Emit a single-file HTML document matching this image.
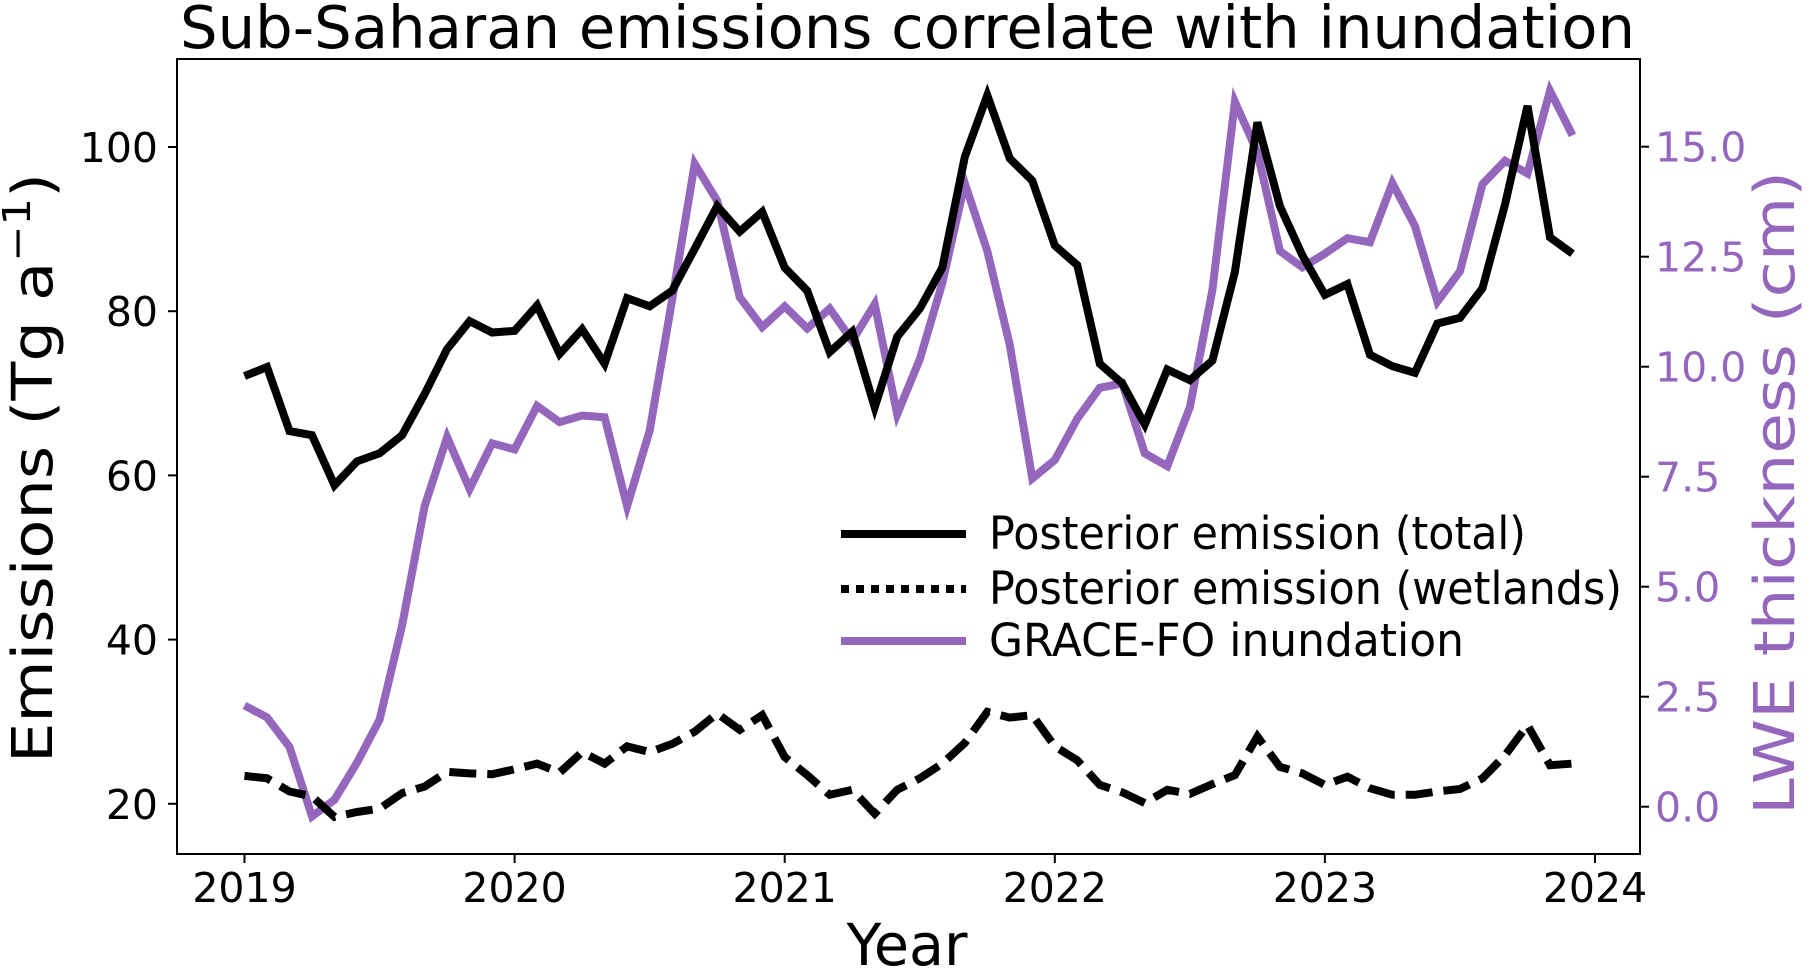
<!DOCTYPE html>
<html><head><meta charset="utf-8"><style>
html,body{margin:0;padding:0;background:#fff;}
svg{display:block;}
text{font-family:"DejaVu Sans","Liberation Sans",sans-serif;}
</style></head><body>
<svg id="chart" width="1812" height="969" viewBox="0 0 1812 969" xmlns="http://www.w3.org/2000/svg">
<text x="180" y="48" font-size="59" textLength="1455" lengthAdjust="spacingAndGlyphs">Sub-Saharan emissions correlate with inundation</text>
<g id="marks"></g>
<rect x="177" y="59" width="1463" height="795" fill="none" stroke="#000" stroke-width="2"/>
<g id="axes"></g>
<text x="907" y="965" font-size="58" text-anchor="middle" textLength="121" lengthAdjust="spacingAndGlyphs">Year</text>
<text transform="translate(52,468) rotate(-90)" font-size="56" text-anchor="middle" textLength="590" lengthAdjust="spacingAndGlyphs">Emissions (Tg a<tspan font-size="38" dy="-22">−1</tspan><tspan dy="22">)</tspan></text>
<text transform="translate(1794,493) rotate(-90)" font-size="56" fill="#9467bd" text-anchor="middle" textLength="644" lengthAdjust="spacingAndGlyphs">LWE thickness (cm)</text>
<g>
<line x1="841" y1="534" x2="966" y2="534" stroke="#000" stroke-width="8"/>
<text x="989" y="549" font-size="45" font-family="Liberation Sans" textLength="537" lengthAdjust="spacingAndGlyphs">Posterior emission (total)</text>
<line x1="841" y1="589" x2="966" y2="589" stroke="#000" stroke-width="8" stroke-dasharray="8 7"/>
<text x="989" y="604" font-size="45" font-family="Liberation Sans" textLength="633" lengthAdjust="spacingAndGlyphs">Posterior emission (wetlands)</text>
<line x1="841" y1="641" x2="966" y2="641" stroke="#9467bd" stroke-width="8"/>
<text x="989" y="656" font-size="45" font-family="Liberation Sans" textLength="475" lengthAdjust="spacingAndGlyphs">GRACE-FO inundation</text>
</g>
</svg>
<script>
const totalEmission = [72.1,73.2,65.4,64.9,58.8,61.7,62.7,64.9,69.9,75.4,78.8,77.4,77.6,80.7,74.8,77.8,73.6,81.6,80.6,82.5,87.6,92.8,89.7,92.1,85.3,82.5,75.0,77.5,68.3,76.9,80.3,85.3,98.8,106.3,98.6,95.9,88.0,85.6,73.6,71.2,66.2,72.9,71.6,74.0,84.8,103.0,92.8,86.8,82.0,83.3,74.7,73.3,72.5,78.5,79.2,82.8,93.0,105.0,89.0,87.0];
const wetlandEmission = [23.4,23.1,21.5,20.9,18.4,19.0,19.4,21.3,22.1,23.9,23.7,23.6,24.2,24.9,23.8,26.3,24.9,27.0,26.3,27.3,28.8,31.0,29.0,30.8,25.7,23.5,21.1,21.7,18.8,21.7,23.1,24.9,27.4,31.2,30.5,30.8,27.0,25.3,22.3,21.4,20.1,21.7,21.2,22.4,23.5,28.2,24.5,23.7,22.3,23.3,21.9,21.1,21.1,21.5,21.8,23.1,25.9,29.6,24.7,24.9];
const graceLWE = [2.30,2.03,1.36,-0.22,0.16,1.0,1.98,4.12,6.83,8.40,7.22,8.26,8.12,9.11,8.74,8.89,8.85,6.83,8.55,11.53,14.61,13.77,11.58,10.90,11.37,10.87,11.32,10.59,11.42,8.92,10.17,11.90,14.17,12.63,10.49,7.46,7.88,8.82,9.52,9.62,8.03,7.74,9.08,11.74,16.02,14.87,12.63,12.26,12.57,12.92,12.83,14.17,13.20,11.48,12.17,14.15,14.68,14.39,16.27,15.26];
const xTickLabels = ["2019","2020","2021","2022","2023","2024"];
const yLeftTicks = [20,40,60,80,100];
const yRightTicks = ["0.0","2.5","5.0","7.5","10.0","12.5","15.0"];
const startYear = 2019;

const NS = "http://www.w3.org/2000/svg";
function xScale(yr){ return 244.5 + (yr - 2019) * 270.1; }
function yLeft(v){ return 803.8 - (v - 20) * 8.21; }
function yRight(v){ return 806.7 - v * 44; }
function mk(tag, attrs, parent){ const e = document.createElementNS(NS, tag); for (const k in attrs) e.setAttribute(k, attrs[k]); parent.appendChild(e); return e; }

const marks = document.getElementById('marks');
const axes = document.getElementById('axes');
function pathFor(arr, ys){ return arr.map((v,i)=>(i?'L':'M')+xScale(startYear + i/12).toFixed(1)+','+ys(v).toFixed(1)).join(' '); }

const p1 = mk('path', {d: pathFor(graceLWE, yRight), fill:'none', stroke:'#9467bd', 'stroke-width':8}, marks);


const p2 = mk('path', {d: pathFor(totalEmission, yLeft), fill:'none', stroke:'#000', 'stroke-width':8}, marks);


const p3 = mk('path', {d: pathFor(wetlandEmission, yLeft), fill:'none', stroke:'#000', 'stroke-width':8, 'stroke-dasharray':'27 11'}, marks);



xTickLabels.forEach((lab)=>{
  const x = xScale(+lab);
  const t = mk('line', {x1:x, y1:854, x2:x, y2:863, stroke:'#000', 'stroke-width':2}, axes);
  
  
  const tx = mk('text', {x:x, y:902, 'font-size':41, 'text-anchor':'middle'}, axes);
  tx.textContent = lab;
  
  
});
yLeftTicks.forEach((v)=>{
  const y = yLeft(v);
  const t = mk('line', {x1:168, y1:y, x2:177, y2:y, stroke:'#000', 'stroke-width':2}, axes);
  
  
  const tx = mk('text', {x:158, y:y+15, 'font-size':41, 'text-anchor':'end'}, axes);
  tx.textContent = String(v);
  
  
});
yRightTicks.forEach((lab)=>{
  const y = yRight(parseFloat(lab));
  const t = mk('line', {x1:1640, y1:y, x2:1649, y2:y, stroke:'#000', 'stroke-width':2}, axes);
  
  
  const tx = mk('text', {x:1655, y:y+15, 'font-size':41, fill:'#9467bd'}, axes);
  tx.textContent = lab;
  
  
});
</script>
</body></html>
